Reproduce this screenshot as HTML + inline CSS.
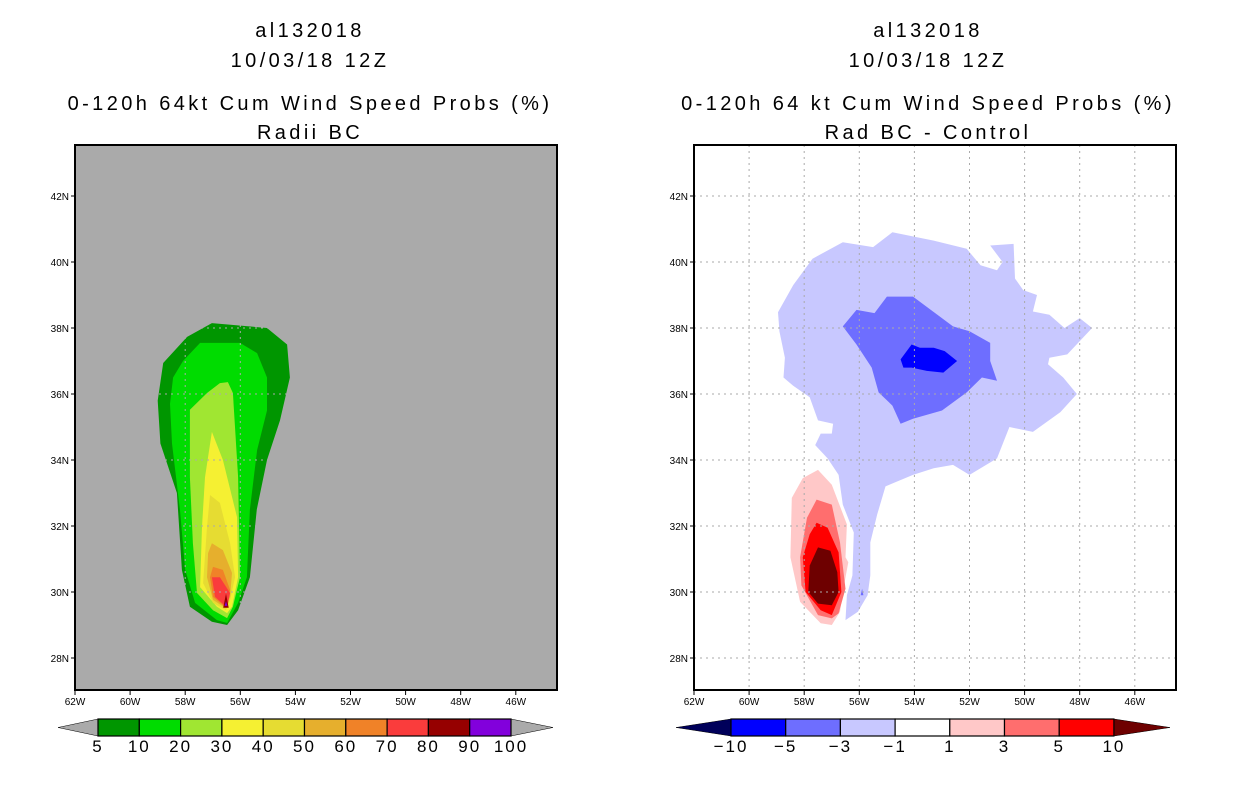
<!DOCTYPE html>
<html><head><meta charset="utf-8"><style>
body{margin:0;background:#fff;width:1236px;height:800px;overflow:hidden}
svg{display:block;font-family:"Liberation Sans",sans-serif}
.tt{letter-spacing:3.4px}
</style></head><body>
<svg id="root" width="1236" height="800">
<g class="tt" font-size="20" text-anchor="middle" fill="#000">
<text x="310" y="37">al132018</text><text x="310" y="67">10/03/18 12Z</text>
<text x="310" y="110">0-120h 64kt Cum Wind Speed Probs (%)</text><text x="310" y="139">Radii BC</text></g>
<g class="tt" font-size="20" text-anchor="middle" fill="#000">
<text x="928" y="37">al132018</text><text x="928" y="67">10/03/18 12Z</text>
<text x="928" y="110">0-120h 64 kt Cum Wind Speed Probs (%)</text><text x="928" y="139">Rad BC - Control</text></g>
<g id="L"></g>
<g id="R"></g>
<g id="CB"></g>
</svg>
<script>
const lonTicks=[62,60,58,56,54,52,50,48,46];
const latTicks=[28,30,32,34,36,38,40,42];
const leftLevels=[5,10,20,30,40,50,60,70,80,90,100];
const leftColors=["#009600","#00dc00","#a0e632","#f5f032","#e6dc32","#e6af2d","#f08228","#fa3c3c","#960000","#8200dc"];
const rightLevels=[-10,-5,-3,-1,1,3,5,10];
const rightColors=["#0000ff","#6e6eff","#c8c8ff","#ffffff","#ffc8c8","#ff6e6e","#ff0000"];
const rightOverColor="#6e0000";
const rightUnderColor="#00005a";
// contour polygons: [colorIndex, [[lonW, latN]...]]
const leftContours=[
 [0,[[57.03,38.15],[55.03,38.0],[54.3,37.5],[54.2,36.5],[54.56,35.2],[55.03,34.0],[55.4,32.5],[55.65,30.45],[56.08,29.45],[56.48,29.0],[57.03,29.1],[57.83,29.55],[58.12,30.67],[58.3,33.0],[58.9,34.5],[59.0,35.8],[58.8,36.94],[57.93,37.73]]],
 [1,[[57.46,37.55],[56.01,37.55],[55.39,37.24],[55.03,36.5],[55.03,35.5],[55.39,34.3],[55.65,32.5],[55.76,30.45],[56.08,29.67],[56.48,29.06],[56.85,29.15],[57.64,29.67],[58.0,30.67],[58.19,32.48],[58.48,34.5],[58.55,35.7],[58.44,36.5],[58.08,37.0]]],
 [2,[[57.83,35.52],[57.21,36.03],[56.74,36.33],[56.45,36.36],[56.27,36.03],[56.08,33.48],[56.01,30.45],[56.27,29.55],[56.48,29.21],[56.99,29.45],[57.57,29.97],[57.72,31.48],[57.83,33.48]]],
 [3,[[57.03,34.85],[56.63,34.0],[56.12,32.27],[56.08,30.45],[56.3,29.55],[56.48,29.36],[56.85,29.55],[57.46,30.15],[57.39,31.97],[57.28,33.48]]],
 [4,[[57.1,32.94],[56.74,32.7],[56.37,31.48],[56.19,30.45],[56.37,29.76],[56.52,29.45],[56.99,29.67],[57.35,30.27],[57.21,31.97]]],
 [5,[[57.03,31.48],[56.63,31.27],[56.3,30.58],[56.37,29.85],[56.55,29.52],[56.99,29.76],[57.21,30.45],[57.17,31.18]]],
 [6,[[56.99,30.76],[56.63,30.67],[56.37,30.06],[56.52,29.52],[56.99,29.85],[57.1,30.45]]],
 [7,[[57.03,30.45],[56.74,30.45],[56.37,29.97],[56.48,29.52],[56.92,29.85]]],
 [8,[[56.52,29.95],[56.42,29.52],[56.62,29.52]]],
 [9,[[56.52,29.72],[56.47,29.58],[56.57,29.58]]]
];
const rightContours=[
 [2,[[58.95,38.48],[58.4,39.3],[57.7,40.1],[56.6,40.6],[55.5,40.45],[54.8,40.9],[53.3,40.65],[52.1,40.4],[51.6,39.9],[51.0,39.75],[50.8,40.0],[51.25,40.5],[50.4,40.55],[50.35,39.5],[50.05,39.15],[49.55,39.0],[49.7,38.5],[49.1,38.4],[48.55,38.0],[48.0,38.3],[47.55,38.0],[48.45,37.2],[49.1,37.1],[49.15,36.9],[48.6,36.5],[48.1,36.0],[48.7,35.45],[49.7,34.85],[50.55,35.0],[51.0,34.05],[52.0,33.55],[52.6,33.85],[53.3,33.75],[54.05,33.55],[55.05,33.2],[55.35,32.35],[55.6,31.5],[55.6,30.5],[55.7,29.9],[56.05,29.4],[56.5,29.15],[56.45,29.9],[56.25,30.5],[56.2,31.8],[56.6,32.65],[56.75,33.55],[57.15,34.05],[57.6,34.45],[57.4,34.8],[57.0,34.8],[56.95,35.1],[57.5,35.2],[57.8,35.9],[58.4,36.25],[58.75,36.5],[58.7,37.1],[58.9,37.9]]],
 [1,[[56.6,38.05],[56.1,38.55],[55.45,38.45],[55.0,38.95],[54.05,38.95],[52.6,38.05],[52.0,37.9],[51.25,37.55],[51.25,37.0],[51.0,36.4],[51.55,36.5],[52.1,36.05],[53.0,35.5],[54.05,35.25],[54.5,35.1],[54.8,35.65],[55.3,36.05],[55.55,36.8],[56.1,37.5]]],
 [0,[[54.5,37.05],[54.1,37.5],[53.8,37.4],[53.3,37.4],[52.9,37.3],[52.45,37.0],[52.95,36.65],[53.55,36.7],[54.1,36.8],[54.4,36.8]]],
 [4,[[57.5,33.7],[57.0,33.25],[56.45,32.05],[56.5,31.05],[56.4,30.9],[56.6,30.0],[56.7,29.4],[57.0,29.0],[57.4,29.05],[58.15,29.7],[58.5,31.05],[58.45,32.85],[58.05,33.45]]],
 [5,[[57.55,32.8],[57.0,32.65],[56.7,31.5],[56.5,30.1],[56.75,29.35],[57.0,29.2],[57.5,29.3],[58.1,30.2],[58.15,31.05],[57.9,32.25]]],
 [6,[[57.55,32.1],[57.15,31.95],[56.75,31.2],[56.65,30.0],[57.0,29.3],[57.4,29.45],[57.95,30.0],[58.05,31.05],[57.8,31.75]]],
 [7,[[57.5,31.35],[57.05,31.25],[56.8,30.6],[56.75,30.0],[57.0,29.6],[57.5,29.65],[57.85,30.0],[57.8,30.8]]],
 [1,[[55.9,30.1],[55.85,29.9],[55.95,29.9]]]
];
const NS="http://www.w3.org/2000/svg";
function mk(t,a,p){const e=document.createElementNS(NS,t);for(const k in a)e.setAttribute(k,a[k]);p.appendChild(e);return e;}
const PW=482,PH=545,PT=145;
function xS(x0){return w=>x0+(62-w)*27.55;}
function yS(lat){return PT+51+(42-lat)*33;}
function panel(g,x0,bg,contours,colors,over){
  const xs=xS(x0);
  const bgR=mk('rect',{x:x0,y:PT,width:PW,height:PH,fill:bg},g);
  
  
  const clip=mk('clipPath',{id:'c'+x0},g);mk('rect',{x:x0,y:PT,width:PW,height:PH},clip);
  const cg=mk('g',{'clip-path':'url(#c'+x0+')'},g);
  contours.forEach(([ci,pts])=>{
    const p=mk('polygon',{points:pts.map(([w,la])=>xs(w).toFixed(1)+','+yS(la).toFixed(1)).join(' '),fill:colors[ci]||over},cg);
    
    
  });
  lonTicks.forEach(w=>{const x=xs(w);
    if(x>x0+1&&x<x0+PW)mk('line',{x1:x,x2:x,y1:PT,y2:PT+PH,stroke:'#aaa','stroke-dasharray':'2,4'},cg);
    mk('line',{x1:x,x2:x,y1:PT+PH,y2:PT+PH+5,stroke:'#000'},g);
    const t=mk('text',{x:x,y:PT+PH+15,'font-size':10,'text-anchor':'middle'},g);t.textContent=w+'W';
    
    });
  latTicks.forEach(la=>{const y=yS(la);
    mk('line',{x1:x0,x2:x0+PW,y1:y,y2:y,stroke:'#aaa','stroke-dasharray':'2,4'},cg);
    mk('line',{x1:x0-4,x2:x0,y1:y,y2:y,stroke:'#000'},g);
    const t=mk('text',{x:x0-6,y:y+4,'font-size':10,'text-anchor':'end'},g);t.textContent=la+'N';
    
    });
  const fr=mk('rect',{x:x0,y:PT,width:PW,height:PH,fill:'none',stroke:'#000','stroke-width':2},g);
  
  
}
panel(document.getElementById('L'),75,'#aaaaaa',leftContours,leftColors,'#aaaaaa');
panel(document.getElementById('R'),694,'#ffffff',rightContours,rightColors,rightOverColor);
function colorbar(tip,x0,bw,levels,colors,lc,rc,tipR){
  const g=document.getElementById('CB');const y=719,h=17;
  const n=colors.length,x1=x0+n*bw;
  const l=mk('polygon',{points:`${tip},${y+h/2} ${x0},${y} ${x0},${y+h}`,fill:lc,stroke:'#000','stroke-width':0.5},g);
  
  
  const r=mk('polygon',{points:`${tipR},${y+h/2} ${x1},${y} ${x1},${y+h}`,fill:rc,stroke:'#000','stroke-width':0.5},g);
  
  
  colors.forEach((c,i)=>{const b=mk('rect',{x:x0+i*bw,y:y,width:bw,height:h,fill:c,stroke:'#000','stroke-width':1.2},g);
    
    });
  levels.forEach((v,i)=>{const t=mk('text',{x:x0+i*bw,y:y+h+16,'font-size':17,'text-anchor':'middle','letter-spacing':2},g);
    t.textContent=v<0?'\u2212'+(-v):v;
    
    });
}
colorbar(58,98,41.3,leftLevels,leftColors,'#aaaaaa','#aaaaaa',553);
colorbar(676,731,54.7,rightLevels,rightColors,rightUnderColor,rightOverColor,1170);
</script>
</body></html>
